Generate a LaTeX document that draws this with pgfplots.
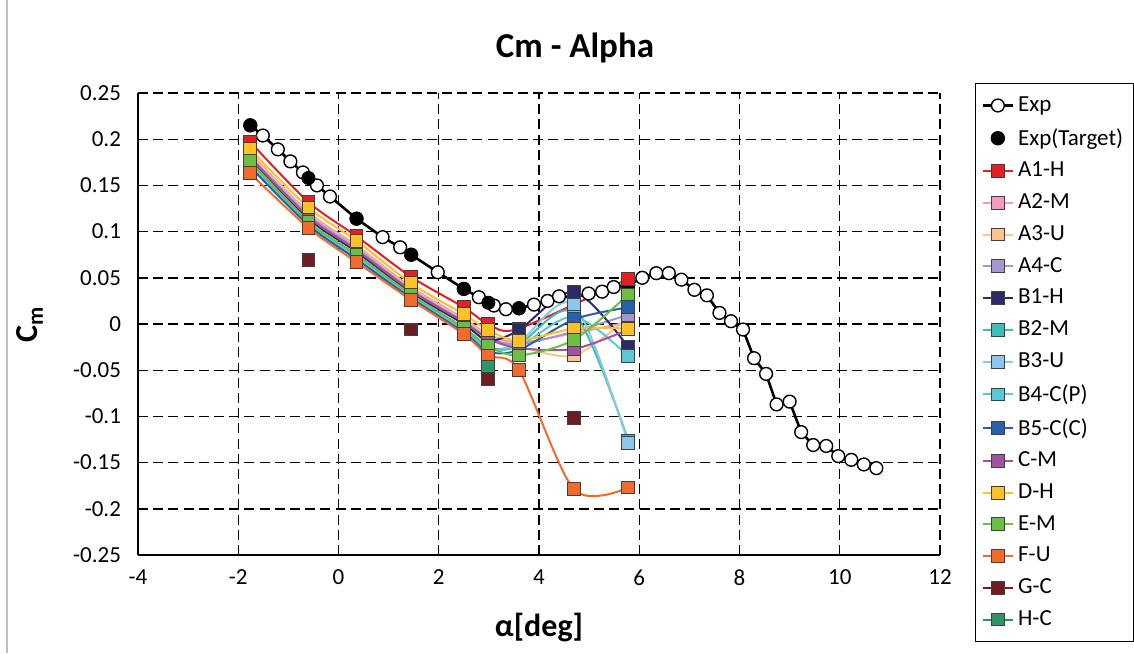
\documentclass[border=0pt]{standalone}
\usepackage{pgfplots}
\pgfplotsset{compat=1.18}
\usepackage{fontspec}
\setmainfont{Carlito}
\definecolor{cA1H}{HTML}{E31E24}
\definecolor{cA2M}{HTML}{F49AC1}
\definecolor{cA3U}{HTML}{FBC490}
\definecolor{cA4C}{HTML}{A497CB}
\definecolor{cB1H}{HTML}{2B2C66}
\definecolor{cB2M}{HTML}{3DBDB5}
\definecolor{cB3U}{HTML}{8CC7EB}
\definecolor{cB4C}{HTML}{5BC7D6}
\definecolor{cB5C}{HTML}{2660AE}
\definecolor{cCM}{HTML}{A1539F}
\definecolor{cDH}{HTML}{FFC226}
\definecolor{cEM}{HTML}{6BBF45}
\definecolor{cFU}{HTML}{F26A2C}
\definecolor{cGC}{HTML}{6E1D20}
\definecolor{cHC}{HTML}{2E946A}
\pgfplotsset{cfd/.style={color=#1, smooth, line width=1pt, mark=square*, mark size=3.2pt,
  mark options={draw=black!75, line width=0.5pt, fill=#1, solid}}}
\begin{document}
\begin{tikzpicture}
\useasboundingbox (-69pt,-49pt) rectangle (498pt,277.5pt);
\draw[black!25, line width=0.7pt] (-65.5pt,-49pt) -- (-65.5pt,277.5pt);
\node[font=\bfseries\fontsize{17.5}{20}\selectfont] at (218.5pt,253.5pt) {Cm - Alpha};
\begin{axis}[
  scale only axis, width=401pt, height=231pt,
  xmin=-4, xmax=12, ymin=-0.25, ymax=0.25,
  xtick={-4,-2,0,2,4,6,8,10,12},
  ytick={-0.25,-0.2,-0.15,-0.1,-0.05,0,0.05,0.1,0.15,0.2,0.25},
  axis x line*=bottom, axis y line*=left,
  axis line style={black, line width=0.8pt},
  major tick length=0pt,
  grid=major,
  major grid style={black, dash pattern=on 5pt off 2.6pt, line width=0.7pt},
  /pgf/number format/assume math mode=true,
  tick label style={font=\fontsize{11.5}{13}\selectfont},
  yticklabel style={/pgf/number format/fixed, /pgf/number format/precision=2, xshift=-5pt},
  xticklabel style={yshift=-4pt},
  xlabel={α[deg]}, ylabel={C\textsubscript{m}},
  label style={font=\bfseries\fontsize{16}{19}\selectfont},
  xlabel style={at={(axis description cs:0.5,-0.158)}, anchor=center},
  ylabel style={at={(axis description cs:-0.135,0.5)}, anchor=center},
  unbounded coords=jump,
  legend style={at={(1.0436,1.0216)}, anchor=north west, draw=black, line width=0.6pt,
    font=\fontsize{11.5}{13}\selectfont, row sep=2.95pt, inner xsep=3pt, inner ysep=4.5pt},
  legend cell align=left,
  legend image code/.code={\draw[mark repeat=2,mark phase=2] plot coordinates {(0pt,0pt) (7.5pt,0pt) (15pt,0pt)};},
]
\addplot[black, line width=1.3pt, mark=*, mark size=3.2pt, mark options={fill=white, line width=0.7pt}] coordinates {
(-1.76,0.215) (-1.51,0.204) (-1.21,0.189) (-0.96,0.176) (-0.71,0.164) (-0.43,0.150) (-0.17,0.138)
(0.36,0.114) (0.88,0.094) (1.23,0.083) (1.45,0.075) (1.98,0.056) (2.50,0.038) (2.80,0.029)
(3.10,0.020) (3.34,0.016) (3.60,0.017) (3.90,0.021) (4.17,0.025) (4.40,0.030) (4.70,0.029)
(4.99,0.033) (5.26,0.035) (5.49,0.040) (5.78,0.042) (6.06,0.050) (6.34,0.055) (6.59,0.055)
(6.84,0.048) (7.10,0.037) (7.35,0.031) (7.60,0.012) (7.83,0.003) (8.07,-0.006) (8.29,-0.037)
(8.53,-0.054) (8.74,-0.087) (9.00,-0.084) (9.23,-0.117) (9.47,-0.131) (9.73,-0.132) (9.97,-0.143)
(10.23,-0.147) (10.48,-0.152) (10.73,-0.156)};
\addlegendentry{Exp}
\addplot[only marks, black, mark=*, mark size=3.3pt] coordinates {
(-1.76,0.215) (-0.6,0.158) (0.36,0.114) (1.45,0.075) (2.5,0.038) (2.99,0.023) (3.6,0.017) (4.7,0.029) (5.78,0.042)};
\addlegendentry{Exp(Target)}
\addplot[cfd=cA1H] coordinates {(-1.76,0.197) (-0.6,0.132) (0.36,0.095) (1.45,0.051) (2.5,0.018) (2.99,0.000) (3.6,-0.005) (5.78,0.049)};
\addlegendentry{A1-H}
\addplot[cfd=cA2M] coordinates {(-1.76,0.185) (-0.6,0.121) (0.36,0.085) (1.45,0.040) (2.5,0.006) (2.99,-0.011) (3.6,-0.020) (4.7,-0.010) (5.78,0.002)};
\addlegendentry{A2-M}
\addplot[cfd=cA3U] coordinates {(-1.76,0.183) (-0.6,0.119) (0.36,0.083) (1.45,0.038) (2.5,0.004) (2.99,-0.013) (3.6,-0.024) (4.7,-0.034) (5.78,0.007)};
\addlegendentry{A3-U}
\addplot[cfd=cA4C] coordinates {(-1.76,0.181) (-0.6,0.118) (0.36,0.082) (1.45,0.037) (2.5,0.003) (2.99,-0.015) (3.6,-0.022) (4.7,-0.008) (5.78,0.010)};
\addlegendentry{A4-C}
\addplot[cfd=cB1H] coordinates {(-1.76,0.179) (-0.6,0.114) (0.36,0.078) (1.45,0.034) (2.5,0.000) (2.99,-0.018) (3.6,-0.0065) (4.7,0.035) (5.78,-0.025)};
\addlegendentry{B1-H}
\addplot[cfd=cB2M] coordinates {(-1.76,0.174) (-0.6,0.110) (0.36,0.073) (1.45,0.030) (2.5,-0.006) (2.99,-0.026) (3.6,-0.022) (4.7,0.012) (5.78,-0.126)};
\addlegendentry{B2-M}
\addplot[cfd=cB3U] coordinates {(-1.76,0.172) (-0.6,0.108) (0.36,0.072) (1.45,0.029) (2.5,-0.007) (2.99,-0.028) (3.6,-0.020) (4.7,0.021) (5.78,-0.129)};
\addlegendentry{B3-U}
\addplot[cfd=cB4C] coordinates {(-1.76,0.173) (-0.6,0.109) (0.36,0.072) (1.45,0.029) (2.5,-0.007) (2.99,-0.027) (3.6,-0.024) (4.7,0.008) (5.78,-0.035)};
\addlegendentry{B4-C(P)}
\addplot[cfd=cB5C] coordinates {(-1.76,0.170) (-0.6,0.107) (0.36,0.070) (1.45,0.028) (2.5,-0.009) (2.99,-0.030) (3.6,-0.028) (4.7,0.005) (5.78,0.018)};
\addlegendentry{B5-C(C)}
\addplot[cfd=cCM] coordinates {(-1.76,0.180) (-0.6,0.116) (0.36,0.080) (1.45,0.036) (2.5,0.002) (2.99,-0.016) (3.6,-0.026) (4.7,-0.027) (5.78,-0.006)};
\addlegendentry{C-M}
\addplot[cfd=cDH] coordinates {(-1.76,0.189) (-0.6,0.126) (0.36,0.090) (1.45,0.044) (2.5,0.0105) (2.99,-0.0065) (3.6,-0.018) (4.7,-0.005) (5.78,-0.005)};
\addlegendentry{D-H}
\addplot[cfd=cEM] coordinates {(-1.76,0.176) (-0.6,0.111) (0.36,0.075) (1.45,0.032) (2.5,-0.004) (2.99,-0.024) (3.6,-0.034) (4.7,-0.017) (5.78,0.032)};
\addlegendentry{E-M}
\addplot[cfd=cFU] coordinates {(-1.76,0.163) (-0.6,0.104) (0.36,0.067) (1.45,0.026) (2.5,-0.011) (2.99,-0.034) (3.6,-0.050) (4.7,-0.179) (5.78,-0.177)};
\addlegendentry{F-U}
\addplot[cfd=cGC] coordinates {(-0.6,0.069) (0.36,nan) (1.45,-0.006) (2.5,nan) (2.99,-0.060) (3.6,nan) (4.7,-0.102)};
\addlegendentry{G-C}
\addplot[cfd=cHC] coordinates {(2.99,-0.046)};
\addlegendentry{H-C}
\end{axis}
\end{tikzpicture}
\end{document}
